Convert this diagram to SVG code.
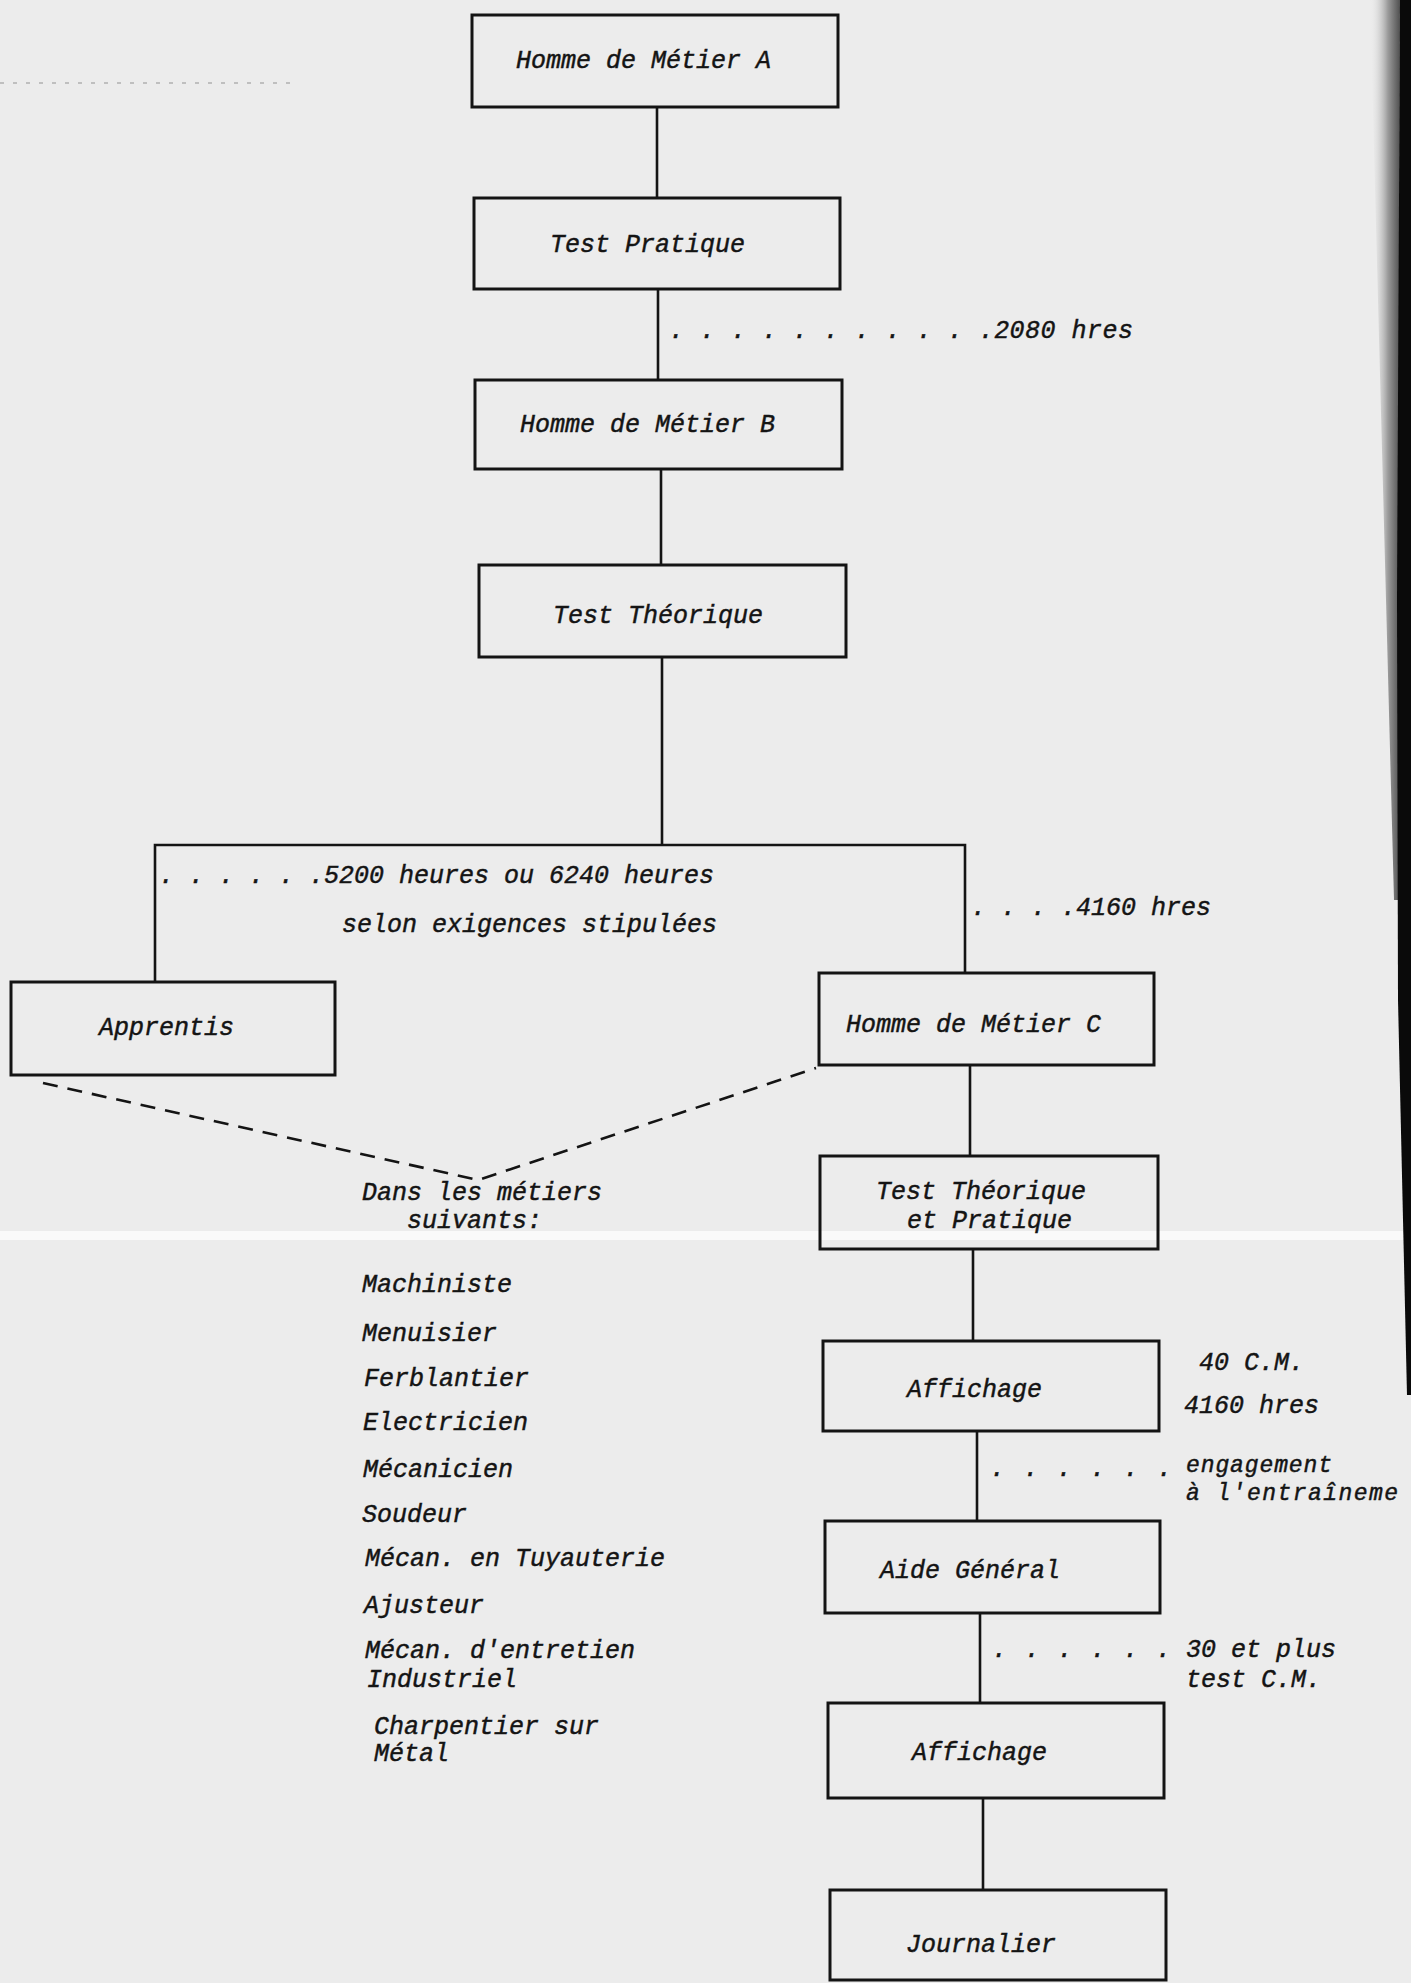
<svg xmlns="http://www.w3.org/2000/svg" width="1411" height="1983" viewBox="0 0 1411 1983">
<defs>
<style>
.bx{fill:none;stroke:#141414;stroke-width:3}
.cn{fill:none;stroke:#141414;stroke-width:2.6}
.ds{fill:none;stroke:#141414;stroke-width:2.6;stroke-dasharray:15 10}
text{font-family:"Liberation Mono","DejaVu Sans Mono",monospace;font-style:italic;font-size:25px;fill:#141414;stroke:#141414;stroke-width:0.45}
.sm{font-size:23px}
</style>
<linearGradient id="edge" x1="0" y1="0" x2="1" y2="0">
<stop offset="0" stop-color="#ececec" stop-opacity="0"/>
<stop offset="0.6" stop-color="#9a9a9a"/>
<stop offset="1" stop-color="#505050"/>
</linearGradient>
</defs>
<rect x="0" y="0" width="1411" height="1983" fill="#ececec"/>
<rect x="0" y="1231" width="1411" height="9" fill="#fafafa"/>
<line x1="0" y1="83" x2="290" y2="83" stroke="#b0b0b0" stroke-width="1.5" stroke-dasharray="4 9"/>
<polygon points="1370,0 1400,0 1398,900 1394,900" fill="url(#edge)"/>
<polygon points="1400,0 1411,0 1411,1395 1407,1395 1398,1000 1397,600" fill="#0a0a0a"/>

<g id="connectors">
<line class="cn" x1="657" y1="107" x2="657" y2="198"/>
<line class="cn" x1="658" y1="289" x2="658" y2="380"/>
<line class="cn" x1="661" y1="469" x2="661" y2="565"/>
<line class="cn" x1="662" y1="657" x2="662" y2="845"/>
<polyline class="cn" points="155,982 155,845 965,845 965,973"/>
<line class="cn" x1="970" y1="1065" x2="970" y2="1156"/>
<line class="cn" x1="973" y1="1249" x2="973" y2="1341"/>
<line class="cn" x1="977" y1="1431" x2="977" y2="1521"/>
<line class="cn" x1="980" y1="1613" x2="980" y2="1703"/>
<line class="cn" x1="983" y1="1798" x2="983" y2="1890"/>
<polyline class="ds" points="43,1083 478,1180 816,1068"/>
<text id="lbl-2080" x="669" y="338" textLength="464">. . . . . . . . . . .2080 hres</text>
<text id="lbl-5200" x="159" y="883">. . . . . .5200 heures ou 6240 heures</text>
<text x="342" y="932">selon exigences stipulées</text>
<text id="lbl-4160" x="971" y="915">. . . .4160 hres</text>
<text x="1199" y="1370">40 C.M.</text>
<text x="1184" y="1413">4160 hres</text>
<text x="990" y="1476" textLength="182">. . . . . .</text>
<text class="sm" x="1186" y="1472" textLength="146">engagement</text>
<text class="sm" x="1186" y="1500" textLength="212">à l'entraîneme</text>
<text x="992" y="1657" textLength="179">. . . . . .</text>
<text x="1186" y="1657">30 et plus</text>
<text x="1186" y="1687">test C.M.</text>
</g>

<g id="node-homme-a">
<rect class="bx" x="472" y="15" width="366" height="92"/>
<text x="516" y="68">Homme de Métier A</text>
</g>
<g id="node-test-pratique">
<rect class="bx" x="474" y="198" width="366" height="91"/>
<text x="550" y="252">Test Pratique</text>
</g>
<g id="node-homme-b">
<rect class="bx" x="475" y="380" width="367" height="89"/>
<text x="520" y="432">Homme de Métier B</text>
</g>
<g id="node-test-theorique">
<rect class="bx" x="479" y="565" width="367" height="92"/>
<text x="553" y="623">Test Théorique</text>
</g>
<g id="node-apprentis">
<rect class="bx" x="11" y="982" width="324" height="93"/>
<text x="99" y="1035">Apprentis</text>
</g>
<g id="node-homme-c">
<rect class="bx" x="819" y="973" width="335" height="92"/>
<text x="846" y="1032">Homme de Métier C</text>
</g>
<g id="node-metiers">
<text x="362" y="1200">Dans les métiers</text>
<text x="407" y="1228">suivants:</text>
<text x="362" y="1292">Machiniste</text>
<text x="362" y="1341">Menuisier</text>
<text x="364" y="1386">Ferblantier</text>
<text x="363" y="1430">Electricien</text>
<text x="363" y="1477">Mécanicien</text>
<text x="362" y="1522">Soudeur</text>
<text x="365" y="1566">Mécan. en Tuyauterie</text>
<text x="364" y="1613">Ajusteur</text>
<text x="365" y="1658">Mécan. d'entretien</text>
<text x="367" y="1687">Industriel</text>
<text x="374" y="1734">Charpentier sur</text>
<text x="374" y="1761">Métal</text>
</g>
<g id="node-test-theo-prat">
<rect class="bx" x="820" y="1156" width="338" height="93"/>
<text x="876" y="1199">Test Théorique</text>
<text x="907" y="1228">et Pratique</text>
</g>
<g id="node-affichage-1">
<rect class="bx" x="823" y="1341" width="336" height="90"/>
<text x="907" y="1397">Affichage</text>
</g>
<g id="node-aide-general">
<rect class="bx" x="825" y="1521" width="335" height="92"/>
<text x="880" y="1578">Aide Général</text>
</g>
<g id="node-affichage-2">
<rect class="bx" x="828" y="1703" width="336" height="95"/>
<text x="912" y="1760">Affichage</text>
</g>
<g id="node-journalier">
<rect class="bx" x="830" y="1890" width="336" height="90"/>
<text x="906" y="1952">Journalier</text>
</g>
</svg>
